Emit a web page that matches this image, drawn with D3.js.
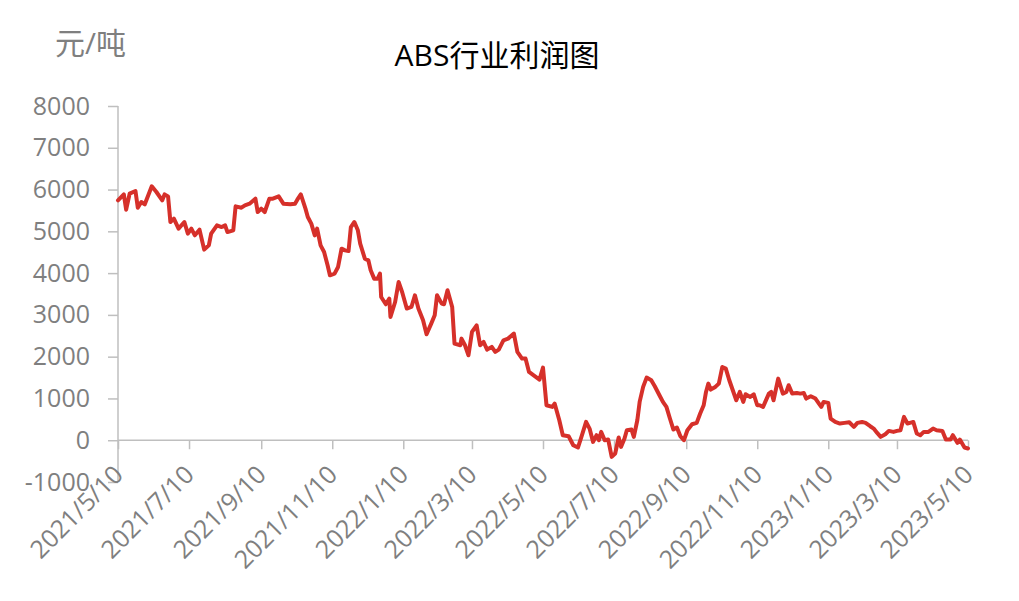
<!DOCTYPE html>
<html>
<head>
<meta charset="utf-8">
<script src="https://cdn.jsdelivr.net/npm/d3@7/dist/d3.min.js"></script>
<style>
  html, body { margin: 0; padding: 0; background: #fff; }
  svg { display: block; }
</style>
</head>
<body>
<svg id="chart" width="1019" height="601"></svg>
<script>
const title = "ABS行业利润图";
const unitLabel = "元/吨";
const yTicks = [-1000, 0, 1000, 2000, 3000, 4000, 5000, 6000, 7000, 8000];
const xTickDates = ["2021-05-10","2021-07-10","2021-09-10","2021-11-10","2022-01-10","2022-03-10","2022-05-10","2022-07-10","2022-09-10","2022-11-10","2023-01-10","2023-03-10","2023-05-10"];
const xTickLabels = ["2021/5/10","2021/7/10","2021/9/10","2021/11/10","2022/1/10","2022/3/10","2022/5/10","2022/7/10","2022/9/10","2022/11/10","2023/1/10","2023/3/10","2023/5/10"];

const dates = [
"2021-05-10","2021-05-15","2021-05-17","2021-05-20","2021-05-25","2021-05-27","2021-05-30","2021-06-02","2021-06-08","2021-06-12",
"2021-06-17","2021-06-19","2021-06-22","2021-06-24","2021-06-27","2021-07-01","2021-07-06","2021-07-09","2021-07-12","2021-07-15",
"2021-07-19","2021-07-23","2021-07-27","2021-07-29","2021-08-03","2021-08-07","2021-08-10","2021-08-12","2021-08-17","2021-08-19",
"2021-08-24","2021-08-27","2021-08-31","2021-09-05","2021-09-07","2021-09-10","2021-09-13","2021-09-17","2021-09-20","2021-09-25",
"2021-09-29","2021-10-05","2021-10-09","2021-10-11","2021-10-14","2021-10-18","2021-10-20","2021-10-23","2021-10-26","2021-10-28",
"2021-10-31","2021-11-03","2021-11-06","2021-11-08","2021-11-12","2021-11-15","2021-11-18","2021-11-21","2021-11-24","2021-11-26",
"2021-11-29","2021-12-02","2021-12-04","2021-12-08","2021-12-11","2021-12-13","2021-12-16","2021-12-19","2021-12-21","2021-12-22",
"2021-12-26","2021-12-29","2021-12-30","2022-01-03","2022-01-06","2022-01-09","2022-01-13","2022-01-17","2022-01-20","2022-01-23",
"2022-01-27","2022-01-30","2022-02-03","2022-02-06","2022-02-08","2022-02-12","2022-02-14","2022-02-17","2022-02-21","2022-02-23",
"2022-02-28","2022-03-01","2022-03-04","2022-03-07","2022-03-10","2022-03-14","2022-03-17","2022-03-20","2022-03-23","2022-03-27",
"2022-03-30","2022-04-02","2022-04-06","2022-04-10","2022-04-15","2022-04-18","2022-04-22","2022-04-25","2022-04-28","2022-05-02",
"2022-05-07","2022-05-10","2022-05-13","2022-05-18","2022-05-20","2022-05-24","2022-05-27","2022-06-01","2022-06-05","2022-06-09",
"2022-06-12","2022-06-16","2022-06-19","2022-06-22","2022-06-25","2022-06-27","2022-06-29","2022-07-02","2022-07-05","2022-07-08",
"2022-07-11","2022-07-14","2022-07-16","2022-07-19","2022-07-21","2022-07-25","2022-07-27","2022-07-30","2022-08-01","2022-08-04",
"2022-08-07","2022-08-11","2022-08-14","2022-08-18","2022-08-21","2022-08-24","2022-08-27","2022-08-30","2022-09-02","2022-09-05",
"2022-09-08","2022-09-11","2022-09-15","2022-09-19","2022-09-22","2022-09-25","2022-09-27","2022-09-29","2022-10-01","2022-10-05",
"2022-10-08","2022-10-11","2022-10-14","2022-10-17","2022-10-20","2022-10-23","2022-10-26","2022-10-29","2022-10-31","2022-11-04",
"2022-11-07","2022-11-10","2022-11-12","2022-11-15","2022-11-20","2022-11-22","2022-11-24","2022-11-28","2022-12-02","2022-12-05",
"2022-12-07","2022-12-10","2022-12-14","2022-12-17","2022-12-20","2022-12-22","2022-12-26","2022-12-30","2023-01-02","2023-01-04",
"2023-01-06","2023-01-10","2023-01-12","2023-01-16","2023-01-20","2023-01-24","2023-01-28","2023-02-01","2023-02-04","2023-02-08",
"2023-02-11","2023-02-15","2023-02-18","2023-02-21","2023-02-24","2023-02-28","2023-03-03","2023-03-07","2023-03-10","2023-03-13",
"2023-03-16","2023-03-19","2023-03-24","2023-03-27","2023-03-30","2023-04-02","2023-04-06","2023-04-10","2023-04-13","2023-04-18",
"2023-04-21","2023-04-25","2023-04-27","2023-05-01","2023-05-03","2023-05-07","2023-05-10"
];

const profit = [
5742,5885,5519,5901,5965,5566,5702,5646,6077,5941,
5742,5885,5837,5223,5303,5064,5223,4944,5064,4904,
5040,4562,4665,4944,5143,5103,5143,4983,5024,5598,
5566,5622,5662,5782,5462,5543,5462,5782,5782,5837,
5662,5646,5662,5758,5885,5543,5342,5183,4904,5064,
4665,4505,4187,3947,3987,4147,4585,4545,4529,5103,
5223,5024,4705,4346,4306,4067,3868,3868,3987,3429,
3254,3389,2950,3309,3787,3548,3151,3190,3469,3151,
2871,2536,2792,2990,3469,3270,3254,3589,3190,2313,
2273,2432,2273,2033,2592,2751,2273,2352,2170,2233,
2113,2170,2392,2432,2552,2113,1954,1954,1635,1555,
1451,1738,837,797,877,478,120,96,-120,-175,
80,438,279,-40,120,0,199,0,16,-399,
-319,64,-159,40,239,255,80,478,917,1276,
1499,1435,1292,1077,917,797,519,255,303,96,
0,239,383,415,638,837,1156,1356,1212,1276,
1356,1754,1715,1435,1196,957,1156,917,1100,1037,
1100,837,837,797,1116,1156,957,1475,1116,1156,
1316,1116,1132,1116,1132,997,1053,997,877,797,
917,893,519,438,399,415,431,319,415,438,
415,335,279,175,80,144,223,199,223,239,
558,399,438,160,120,199,199,279,239,223,
16,16,120,-64,16,-175,-199
];

const parse = d3.timeParse("%Y-%m-%d");
const data = dates.map((d, i) => ({ date: parse(d), value: profit[i] }));

const svg = d3.select("#chart");
const gray = "#7f7f7f";
const axisColor = "#bfbfbf";

const x = d3.scaleTime()
  .domain([parse("2021-05-10"), parse("2023-05-10")])
  .range([118, 968]);
const y = d3.scaleLinear()
  .domain([-1000, 8000])
  .range([482, 106]);

// Y axis
const yAxis = svg.append("g")
  .attr("transform", `translate(${x.range()[0]},0)`)
  .call(d3.axisLeft(y).tickValues(yTicks).tickSize(10).tickPadding(18).tickFormat(d => String(d)));
yAxis.select(".domain").attr("stroke", axisColor).attr("stroke-width", 1.5)
  .attr("d", `M0,${y(8000)}H0V${y(-1000)}`);
yAxis.selectAll(".tick line").attr("stroke", axisColor).attr("stroke-width", 1.5);
yAxis.selectAll(".tick text")
  .attr("fill", gray)
  .style("font-family", "'Open Sans', 'Noto Sans', sans-serif")
  .style("font-size", "25px");

// X axis at y=0
const xAxis = svg.append("g")
  .attr("transform", `translate(0,${y(0)})`)
  .call(d3.axisBottom(x)
    .tickValues(xTickDates.map(parse))
    .tickSize(9)
    .tickFormat((d, i) => xTickLabels[i]));
xAxis.select(".domain").attr("stroke", axisColor).attr("stroke-width", 1.5)
  .attr("d", `M${x.range()[0]},0H${x.range()[1]}`);
xAxis.selectAll(".tick line").attr("stroke", axisColor).attr("stroke-width", 1.5);
xAxis.selectAll(".tick text")
  .attr("fill", gray)
  .attr("y", 0)
  .attr("dy", 0)
  .attr("text-anchor", "end")
  .attr("transform", "translate(6,36) rotate(-45)")
  .style("font-family", "'Open Sans', 'Noto Sans', sans-serif")
  .style("font-size", "25px");

// Line
const line = d3.line()
  .x(d => x(d.date))
  .y(d => y(d.value));

svg.append("path")
  .datum(data)
  .attr("fill", "none")
  .attr("stroke", "#d6302a")
  .attr("stroke-width", 4)
  .attr("stroke-linejoin", "round")
  .attr("stroke-linecap", "round")
  .attr("d", line);

// Title
svg.append("text")
  .attr("x", 497)
  .attr("y", 66)
  .attr("text-anchor", "middle")
  .attr("fill", "#000")
  .style("font-family", "'Open Sans', 'Noto Sans CJK SC', sans-serif")
  .style("font-size", "30px")
  .text(title);

// Unit label
svg.append("text")
  .attr("x", 55)
  .attr("y", 54)
  .attr("fill", gray)
  .style("font-family", "'Open Sans', 'Noto Sans CJK SC', sans-serif")
  .style("font-size", "30px")
  .text(unitLabel);
</script>
</body>
</html>
